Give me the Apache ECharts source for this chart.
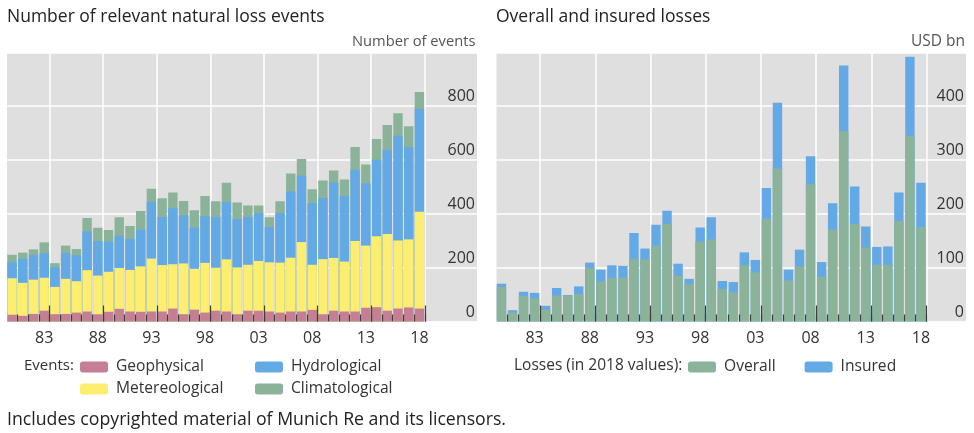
<!DOCTYPE html>
<html>
<head>
<meta charset="UTF-8"/>
<title>Natural loss events</title>
<script src="https://cdn.jsdelivr.net/npm/echarts@6/dist/echarts.min.js"></script>
<style>
html, body { margin: 0; padding: 0; background: #fff; }
#main { width: 974px; height: 433px; }
</style>
</head>
<body>
<div id="main"></div>
<script>
var years = [1980,1981,1982,1983,1984,1985,1986,1987,1988,1989,1990,1991,1992,1993,1994,1995,1996,1997,1998,1999,
    2000,2001,2002,2003,2004,2005,2006,2007,2008,2009,2010,2011,2012,2013,2014,2015,2016,2017,2018];
var labelYears = [1983,1988,1993,1998,2003,2008,2013,2018];

// left panel, number of events
var geophysical = [25,21,28,40,27,28,33,37,27,36,47,37,36,37,37,48,27,44,33,40,
    37,27,40,40,37,33,37,37,43,27,40,37,37,51,53,40,48,52,48];
var metereological = [135,122,127,122,101,130,116,153,143,148,151,154,168,196,172,164,188,151,184,159,
    193,173,170,184,182,185,199,257,167,204,195,185,261,230,263,284,252,252,358];
var hydrological = [59,89,91,91,73,96,96,144,128,111,119,115,136,209,178,207,177,153,173,188,
    212,179,177,177,131,183,245,246,228,226,280,243,264,230,283,312,388,341,382];
var climatological = [28,23,21,40,15,27,23,49,49,44,69,48,69,49,69,59,54,64,75,58,
    72,62,42,28,36,44,67,62,52,65,44,61,84,70,77,91,83,78,62];

// right panel, USD bn
var overall = [64,17,47,43,22,48,48,51,99,74,81,81,116,115,140,181,85,70,148,152,
    60,54,104,91,190,283,76,102,254,83,170,352,180,137,105,105,186,344,175];
var insured = [6,4,8,10,7,14,1,14,10,22,23,22,48,20,39,24,22,9,26,41,
    15,19,24,23,57,122,20,31,52,27,49,122,70,39,33,34,53,146,82];

var colors = {geo: '#c57f95', met: '#fdee6f', hyd: '#63a9e6', cli: '#8ab39a'};
var font = '"Open Sans", "Noto Sans", sans-serif';

function twoDigit(v) {
    return String(v % 100).padStart(2, '0');
}

var shortTicks = years.map(function (y) { return y + 0.5; });
var longTicks = labelYears.map(function (y) { return y + 0.5; });

// three x axes per panel: grid lines and labels under the bars, ticks above them
function xAxes(gridIndex, min, max) {
    var base = {type: 'value', gridIndex: gridIndex, min: min, max: max, position: 'bottom', axisLine: {show: false}};
    return [
        Object.assign({}, base, {
            z: 1,
            axisTick: {show: false, customValues: longTicks},
            splitLine: {show: true, lineStyle: {color: '#fff', width: 1.5}},
            axisLabel: {customValues: labelYears, formatter: twoDigit, color: '#333', fontFamily: font, fontSize: 16, margin: 9}
        }),
        Object.assign({}, base, {
            z: 6,
            axisLabel: {show: false}, splitLine: {show: false},
            axisTick: {show: true, inside: true, length: 7, customValues: shortTicks, lineStyle: {color: '#3d3d3d', width: 1.2}}
        }),
        Object.assign({}, base, {
            z: 6,
            axisLabel: {show: false}, splitLine: {show: false},
            axisTick: {show: true, inside: true, length: 16, customValues: longTicks, lineStyle: {color: '#3d3d3d', width: 1.2}}
        })
    ];
}

function yAxis(gridIndex, max, interval) {
    return {
        type: 'value', gridIndex: gridIndex, position: 'right', min: 0, max: max, interval: interval,
        axisLine: {show: false}, axisTick: {show: false},
        splitLine: {lineStyle: {color: '#fff', width: 1.5}},
        axisLabel: {
            inside: true, showMaxLabel: false, color: '#333', fontFamily: font, fontSize: 16, margin: 2,
            align: 'right', verticalAlign: 'bottom', padding: [0, 0, 1, 0]
        }
    };
}

// value axes do not stack, so each bar is drawn up to its running total, tallest layer first
function layers(stack, xIndex, yIndex) {
    var totals = years.map(function () { return 0; });
    var out = stack.map(function (s) {
        totals = totals.map(function (t, i) { return t + s.values[i]; });
        return {
            name: s.name, type: 'bar', xAxisIndex: xIndex, yAxisIndex: yIndex,
            data: totals.map(function (t, i) { return [years[i], t]; }),
            barWidth: 9.4, barGap: '-100%', itemStyle: {color: s.color}, z: 3
        };
    });
    return out.reverse();
}

function label(text, left, top, size, color) {
    return {
        text: text, left: left, top: top, padding: 0,
        textStyle: {color: color, fontFamily: font, fontSize: size, fontWeight: 'normal'}
    };
}

var legendBase = {
    itemWidth: 28, itemHeight: 11, selectedMode: false, padding: 0,
    textStyle: {color: '#333', fontFamily: font, fontSize: 15.6, padding: [0, 0, 0, 3]}
};

var option = {
    animation: false,
    backgroundColor: '#fff',
    title: [
        label('Number of relevant natural loss events', 7, 8, 17.5, '#222'),
        label('Overall and insured losses', 496, 8, 17.5, '#222'),
        label('Number of events', 352, 34, 14.7, '#555'),
        label('USD bn', 911, 34, 15.5, '#555'),
        label('Events:', 24, 358, 15, '#333'),
        label('Losses (in 2018 values):', 514, 358, 15.5, '#333'),
        label('Includes copyrighted material of Munich Re and its licensors.', 7, 411, 17.7, '#222')
    ],
    legend: [
        Object.assign({}, legendBase, {left: 80, top: 359, orient: 'vertical', itemGap: 6, data: ['Geophysical', 'Metereological']}),
        Object.assign({}, legendBase, {left: 255, top: 359, orient: 'vertical', itemGap: 6, data: ['Hydrological', 'Climatological']}),
        Object.assign({}, legendBase, {left: 688, top: 359, itemGap: 29, data: ['Overall', 'Insured']})
    ],
    grid: [
        {left: 7, top: 53, width: 470, height: 268.5, show: true, backgroundColor: '#dfdfdf', borderWidth: 0},
        {left: 496.5, top: 53, width: 469.5, height: 268.5, show: true, backgroundColor: '#dfdfdf', borderWidth: 0}
    ],
    xAxis: xAxes(0, 1979.53, 2023.37).concat(xAxes(1, 1979.55, 2022.08)),
    yAxis: [yAxis(0, 994, 200), yAxis(1, 497, 100)],
    series: layers([
        {name: 'Geophysical', values: geophysical, color: colors.geo},
        {name: 'Metereological', values: metereological, color: colors.met},
        {name: 'Hydrological', values: hydrological, color: colors.hyd},
        {name: 'Climatological', values: climatological, color: colors.cli}
    ], 0, 0).concat(layers([
        {name: 'Overall', values: overall, color: colors.cli},
        {name: 'Insured', values: insured, color: colors.hyd}
    ], 3, 1))
};

var myChart = echarts.init(document.getElementById('main'));
myChart.setOption(option);
</script>
</body>
</html>
